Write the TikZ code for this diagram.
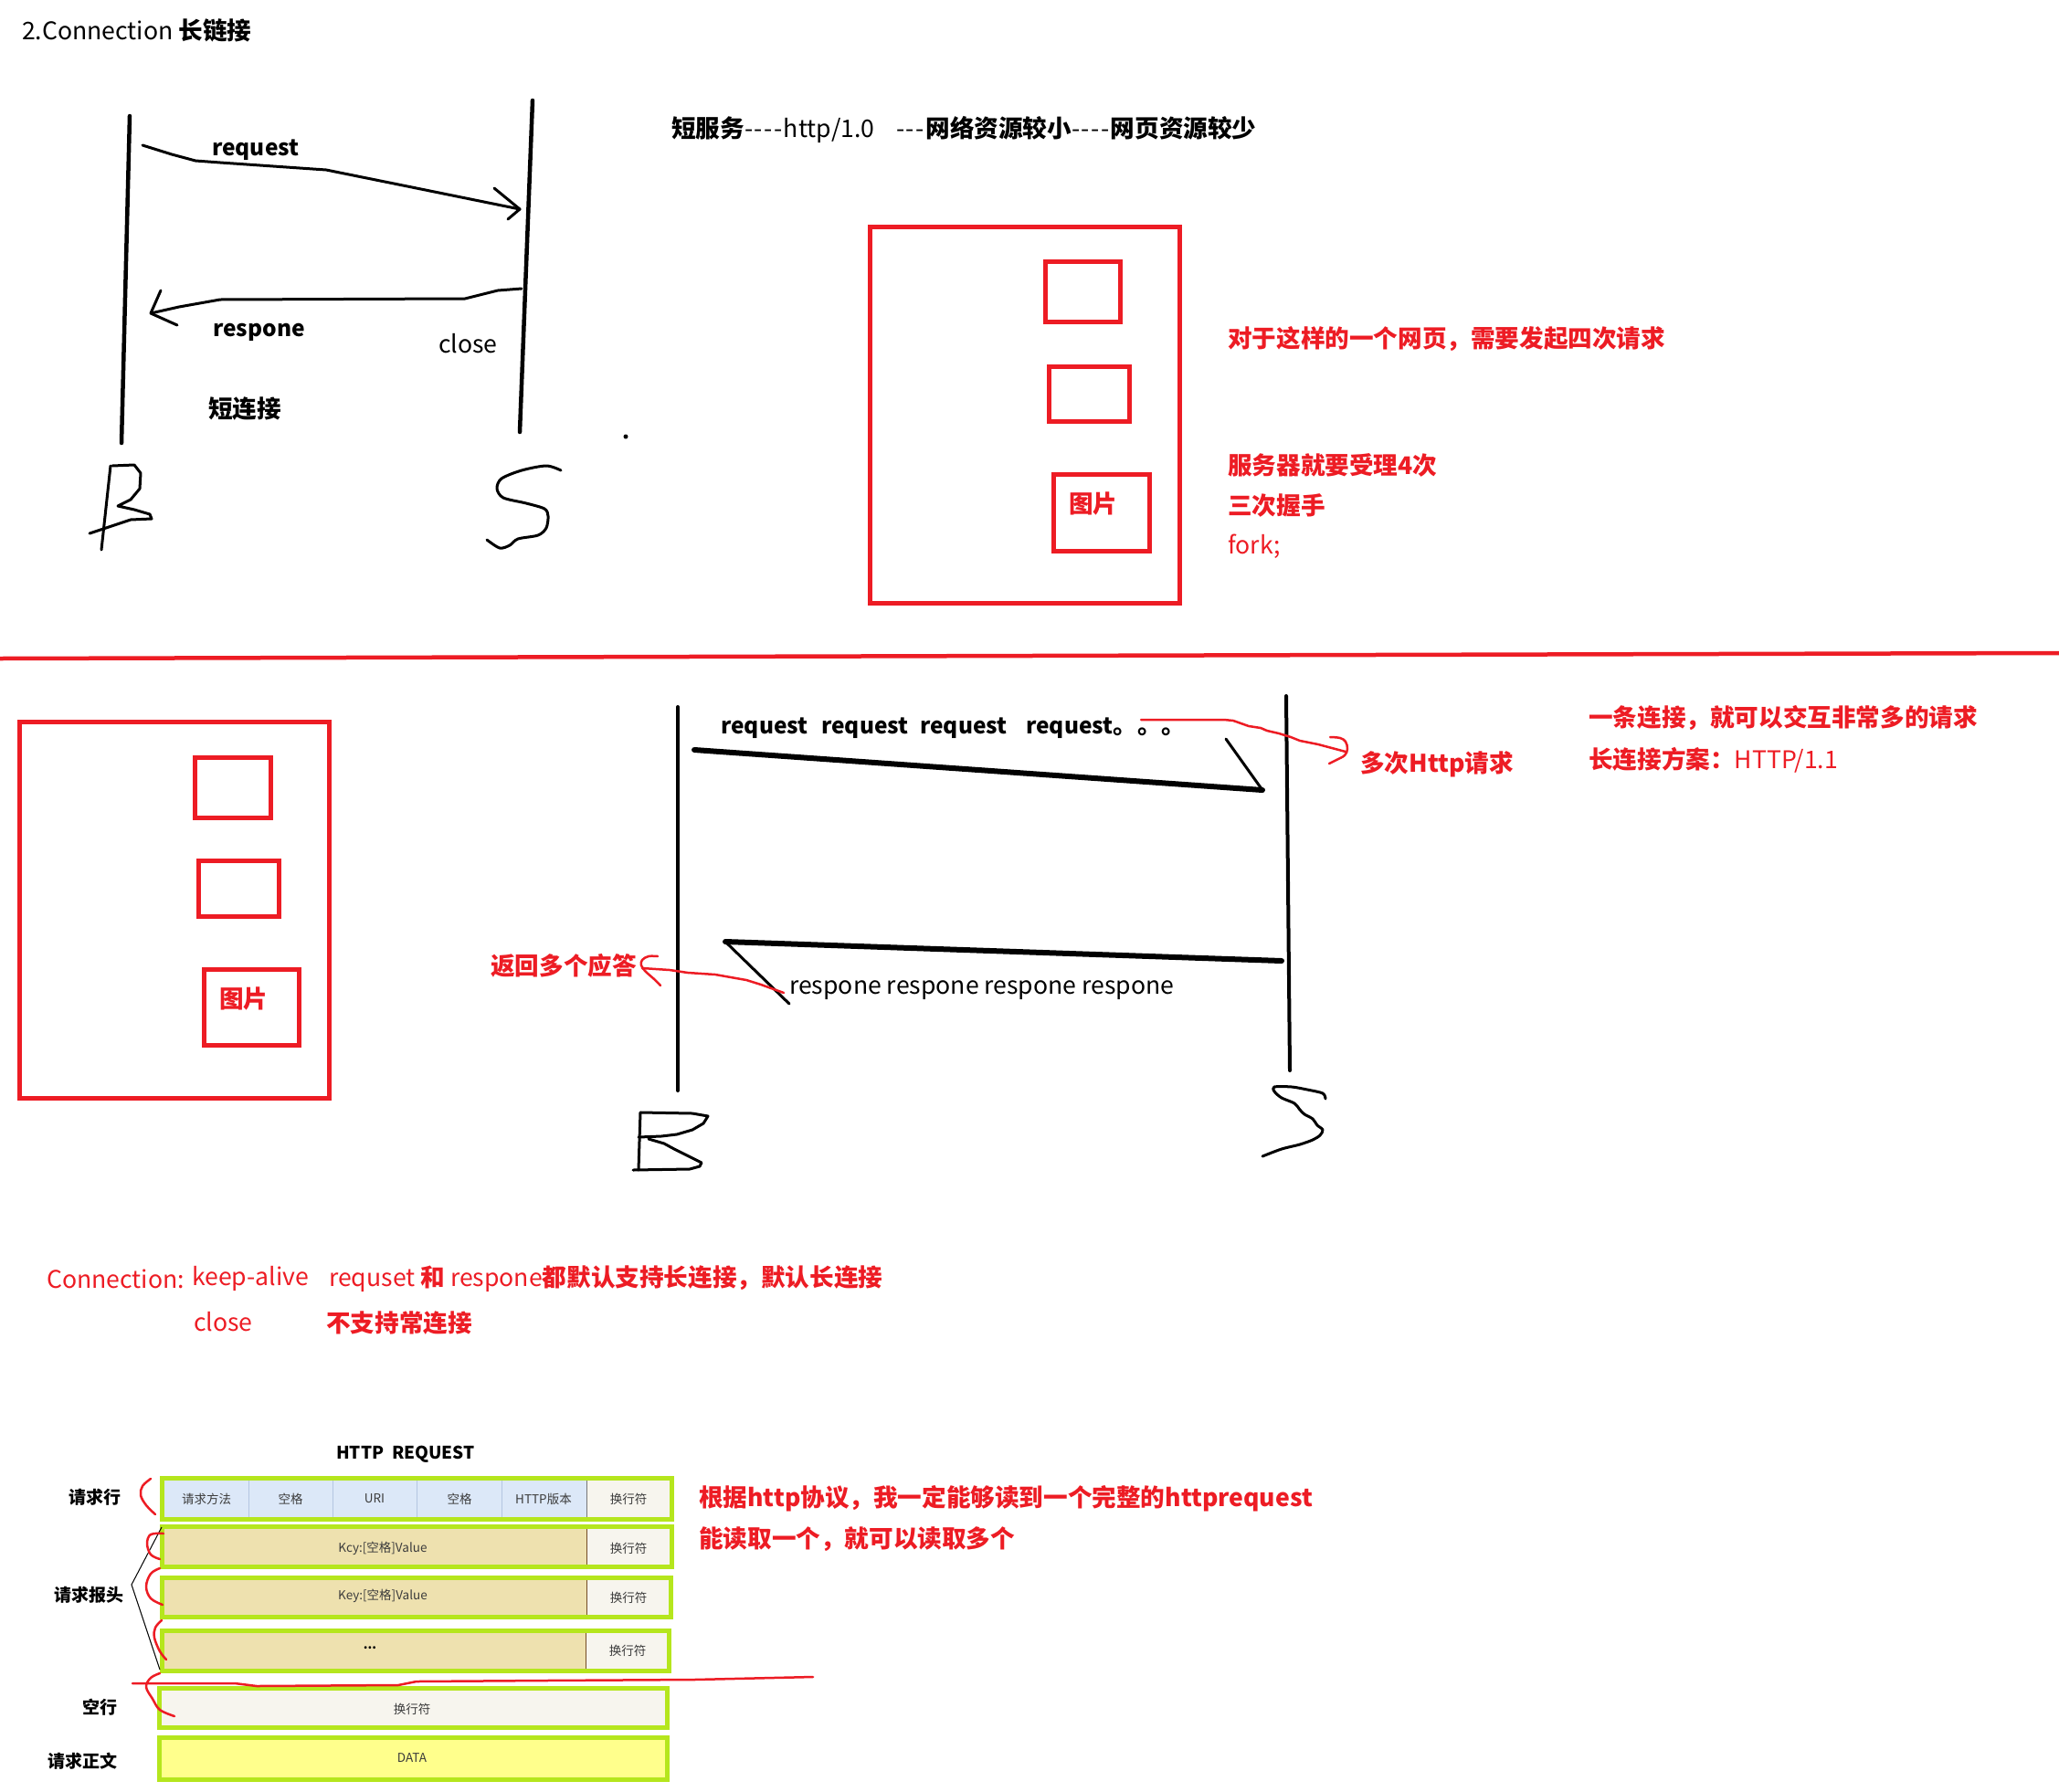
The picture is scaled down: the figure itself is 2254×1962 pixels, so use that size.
\documentclass[tikz,border=0pt]{standalone}
\usepackage{fontspec}
\setmainfont{Noto Sans CJK SC}
\newcommand\dsh{-\kern1.5pt}
\definecolor{pred}{RGB}{237,28,36}
\definecolor{plime}{RGB}{181,230,29}
\definecolor{cblue}{RGB}{220,232,248}
\definecolor{cbluel}{RGB}{180,198,225}
\definecolor{ctan}{RGB}{238,225,175}
\definecolor{cwhite}{RGB}{247,245,238}
\definecolor{cyel}{RGB}{255,255,140}
\definecolor{cgray}{RGB}{60,60,60}
\begin{document}
\begin{tikzpicture}[x=1pt,y=-1pt,
  tx/.style={inner sep=0pt, anchor=west, font=\fontsize{26.6}{30}\selectfont},
  txb/.style={inner sep=0pt, anchor=west, font=\fontsize{26.6}{30}\selectfont\bfseries},
  wordb/.style={inner sep=0pt, anchor=west, font=\fontsize{24.5}{30}\selectfont\bfseries},
  cellt/.style={inner sep=0pt, text=cgray, font=\fontsize{13.5}{15}\selectfont},
  labt/.style={inner sep=0pt, font=\fontsize{19}{22}\selectfont\bfseries},
  pen/.style={line width=4.5pt, line cap=round, line join=round},
  hand/.style={line width=3pt, line cap=round, line join=round},
  redpen/.style={pred, line width=2.5pt, line cap=round, line join=round},
  redbox/.style={pred, line width=5pt},
  greenrow/.style={plime, line width=5pt}]
\fill[white] (0,0) rectangle (2254,1962);
\useasboundingbox (0,0) rectangle (2254,1962);

% title
\node[tx] (title) at (24,33) {2.Connection \textbf{长链接}};

% ---------- short connection diagram ----------
\coordinate (b1t) at (142,127); \coordinate (b1b) at (133,485);
\coordinate (s1t) at (583,110); \coordinate (s1b) at (569,473);
\draw[pen] (b1t) -- (b1b);
\draw[pen] (s1t) -- (s1b);
\draw[hand] (156,159) -- (188,169) -- (214,176) -- (241,178) -- (357,186) -- (446,204) -- (569,229);
\draw[hand] (541,206) -- (569,229) -- (556,240);
\draw[hand] (571,316) -- (545,318) -- (509,327) -- (241,328) -- (196,336) -- (165,343);
\draw[hand] (176,318) -- (165,343) -- (194,356);
\node[wordb] (req1) at (232,164) {request};
\node[wordb] (resp1) at (233,364) {respone};
\node[tx] (close1) at (480,376) {close};
\node[txb] (short) at (228,448) {短连接};
\fill (685,478) circle (2.5);
% B letter
\draw[hand] (121,510) -- (111,602);
\draw[hand] (123,510) -- (147,509) -- (154,518) -- (153,535) -- (143,547) -- (129,554) -- (147,558) -- (164,563) -- (166,568) -- (143,569) -- (116,578) -- (98,584);
% S letter
\draw[hand] plot[smooth, tension=0.5] coordinates {(614,515) (598,510) (571,515) (549,524) (544,535) (551,545) (576,551) (596,557) (600,565) (598,578) (589,586) (567,590) (558,597) (547,600) (533,591)};

% header text
\node[tx] (hdr) at (735,142) {\textbf{短服务}\dsh\dsh\dsh\dsh http/1.0\ \ \ \ \dsh\dsh\dsh\textbf{网络资源较小}\dsh\dsh\dsh\dsh\textbf{网页资源较少}};

% ---------- top page box ----------
\draw[redbox] (952.5,248.5) rectangle (1291.5,660.5);
\draw[redbox] (1144.5,286.5) rectangle (1226.5,352.5);
\draw[redbox] (1148.5,401.5) rectangle (1236.5,461.5);
\draw[redbox] (1153.5,519.5) rectangle (1258.5,603.5);
\node[txb, text=pred] (pic1) at (1170,552) {图片};
\node[txb, text=pred] (n1) at (1344,371) {对于这样的一个网页，需要发起四次请求};
\node[txb, text=pred] (n2) at (1344,509) {服务器就要受理4次};
\node[txb, text=pred] (n3) at (1344,553) {三次握手};
\node[tx, text=pred] (n4) at (1344,598) {fork;};

% separator
\draw[pred, line width=4.5pt] (0,721) -- (2254,715);

% ---------- bottom page box ----------
\draw[redbox] (21.5,790.5) rectangle (360.5,1202.5);
\draw[redbox] (213.5,829.5) rectangle (296.5,895.5);
\draw[redbox] (217.5,942.5) rectangle (305.5,1003.5);
\draw[redbox] (223.5,1061.5) rectangle (327.5,1144.5);
\node[txb, text=pred] (pic2) at (240,1093) {图片};

% ---------- long connection diagram ----------
\coordinate (b2t) at (742,774); \coordinate (b2b) at (742,1194);
\coordinate (s2t) at (1408,762); \coordinate (s2b) at (1412,1172);
\draw[line width=4pt, line cap=round] (b2t) -- (b2b);
\draw[line width=4pt, line cap=round] (s2t) -- (s2b);
\draw[line width=6pt, line cap=round] (760,821) -- (1382,865);
\draw[hand] (1382,865) -- (1342,809);
\draw[line width=6pt, line cap=round] (794,1031) -- (1403,1052);
\draw[hand] (794,1031) -- (864,1099);
\node[wordb] (rq1) at (789,797) {request};
\node[wordb] (rq2) at (899,797) {request};
\node[wordb] (rq3) at (1007,797) {request};
\node[wordb] (rq4) at (1123,797) {request{\fontsize{26.6}{30}\selectfont 。。。}};
\node[tx] (rsp) at (864,1084) {respone respone respone respone};
% B letter
\draw[hand] (701,1218) -- (699,1281);
\draw[hand] (701,1218) -- (758,1219) -- (775,1222) -- (770,1230) -- (758,1237) -- (741,1242) -- (724,1244) -- (699,1245);
\draw[hand] (710,1247) -- (727,1252) -- (738,1258) -- (752,1265) -- (768,1273) -- (766,1277) -- (755,1280) -- (693,1281);
% S letter
\draw[hand] plot[smooth, tension=0.5] coordinates {(1451,1203) (1448,1197) (1431,1193) (1414,1190) (1395,1190) (1395,1195) (1403,1202) (1417,1208) (1423,1215) (1428,1220) (1437,1225) (1442,1232) (1448,1237) (1445,1243) (1437,1248) (1423,1253) (1403,1258) (1382,1266)};

% red annotations
\draw[redpen] (1249,788) -- (1340,788) -- (1350,789) -- (1367,795) -- (1380,797) -- (1387,800) -- (1400,803) -- (1413,807) -- (1423,811) -- (1443,815) -- (1473,823);
\draw[redpen] plot[smooth, tension=0.6] coordinates {(1456,807) (1467,808) (1473,812) (1475,820) (1472,827) (1463,832) (1455,836)};
\node[txb, text=pred] (multi) at (1489,837) {多次Http请求};
\node[txb, text=pred] (one) at (1739,786) {一条连接，就可以交互非常多的请求};
\node[tx, text=pred] (plan) at (1739,832) {\textbf{长连接方案：}HTTP/1.1};
\node[txb, text=pred] (ret) at (537,1057) {返回多个应答};
\draw[redpen] plot[smooth, tension=0.6] coordinates {(720,1047) (710,1047) (703,1051) (702,1057) (707,1064) (715,1071) (723,1079)};
\draw[redpen] (703,1060) -- (733,1062) -- (753,1065) -- (783,1067) -- (817,1073) -- (833,1078) -- (858,1087);

% Connection header lines
\node[tx, text=pred] (conn) at (51,1400) {Connection:};
\node[tx, text=pred] (ka) at (210,1400) {keep-alive};
\node[tx, text=pred] (ka2) at (360,1400) {requset \textbf{和} respone\textbf{都默认支持长连接，默认长连接}};
\node[tx, text=pred] (cl) at (212,1447) {close};
\node[txb, text=pred] (nc) at (357,1449) {不支持常连接};

% ---------- HTTP REQUEST table ----------
\node[labt] (ht) at (444,1592) {HTTP\ \ REQUEST};
% row 1
\fill[cblue] (180,1621) rectangle (642,1661);
\fill[cwhite] (642,1621) rectangle (733,1661);
\foreach \x in {272,364,456,549} \draw[cbluel, line width=1pt] (\x,1621) -- (\x,1661);
\draw[cgray!70, line width=1pt] (642,1621) -- (642,1661);
\draw[greenrow] (177.5,1618.5) rectangle (735.5,1663.5);
\node[cellt] (c11) at (226,1641) {请求方法};
\node[cellt] (c12) at (318,1641) {空格};
\node[cellt] (c13) at (410,1641) {URI};
\node[cellt] (c14) at (503,1641) {空格};
\node[cellt] (c15) at (595,1641) {HTTP版本};
\node[cellt] (c16) at (688,1641) {换行符};
% row 2
\fill[ctan] (180,1674) rectangle (642,1713);
\fill[cwhite] (642,1674) rectangle (733,1713);
\draw[brown!60!black, line width=1pt] (642,1674) -- (642,1713);
\draw[greenrow] (177.5,1671.5) rectangle (735.5,1715.5);
\node[cellt] (c21) at (419,1695) {Kcy:[空格]Value};
\node[cellt] (c22) at (688,1695) {换行符};
% row 3
\fill[ctan] (180,1730) rectangle (642,1768);
\fill[cwhite] (642,1730) rectangle (732,1768);
\draw[brown!60!black, line width=1pt] (642,1730) -- (642,1768);
\draw[greenrow] (177.5,1727.5) rectangle (734.5,1770.5);
\node[cellt] (c31) at (419,1747) {Key:[空格]Value};
\node[cellt] (c32) at (688,1749) {换行符};
% row 4
\fill[ctan] (180,1788) rectangle (641,1827);
\fill[cwhite] (641,1788) rectangle (730,1827);
\draw[brown!60!black, line width=1pt] (641,1788) -- (641,1827);
\draw[greenrow] (177.5,1785.5) rectangle (732.5,1829.5);
\node[cellt, text=black, font=\fontsize{13.5}{15}\selectfont\bfseries] (c41) at (405,1804) {...};
\node[cellt] (c42) at (687,1807) {换行符};
% row 5
\fill[cwhite] (177,1851) rectangle (728,1889);
\draw[greenrow] (174.5,1848.5) rectangle (730.5,1891.5);
\node[cellt] (c5) at (451,1871) {换行符};
% row 6
\fill[cyel] (177,1905) rectangle (728,1946);
\draw[greenrow] (174.5,1902.5) rectangle (730.5,1948.5);
\node[cellt] (c6) at (451,1925) {DATA};
% left labels
\node[labt] (l1) at (104,1639) {请求行};
\node[labt] (l2) at (97,1746) {请求报头};
\node[labt] (l3) at (109,1869) {空行};
\node[labt] (l4) at (90,1928) {请求正文};
\draw[line width=1pt] (177,1672) -- (144,1735) -- (175,1828);
% red brackets
\draw[redpen] plot[smooth, tension=0.6] coordinates {(165,1619) (156,1627) (154,1637) (160,1648) (170,1658)};
\draw[redpen] plot[smooth, tension=0.6] coordinates {(179,1679) (165,1680) (161,1690) (165,1702) (175,1707)};
\draw[redpen] plot[smooth, tension=0.6] coordinates {(175,1717) (165,1723) (160,1737) (165,1750) (178,1757)};
\draw[redpen] plot[smooth, tension=0.6] coordinates {(177,1774) (170,1782) (169,1793) (175,1808) (182,1817)};
\draw[redpen] plot[smooth, tension=0.6] coordinates {(175,1832) (165,1837) (160,1847) (167,1860) (175,1872) (191,1879)};
\draw[redpen] (145,1843) -- (257,1843) -- (281,1846) -- (436,1845) -- (456,1841) -- (596,1840) -- (760,1839) -- (890,1836);
\node[txb, text=pred] (g1) at (765,1641) {根据http协议，我一定能够读到一个完整的httprequest};
\node[txb, text=pred] (g2) at (765,1685) {能读取一个，就可以读取多个};
\end{tikzpicture}
\end{document}
